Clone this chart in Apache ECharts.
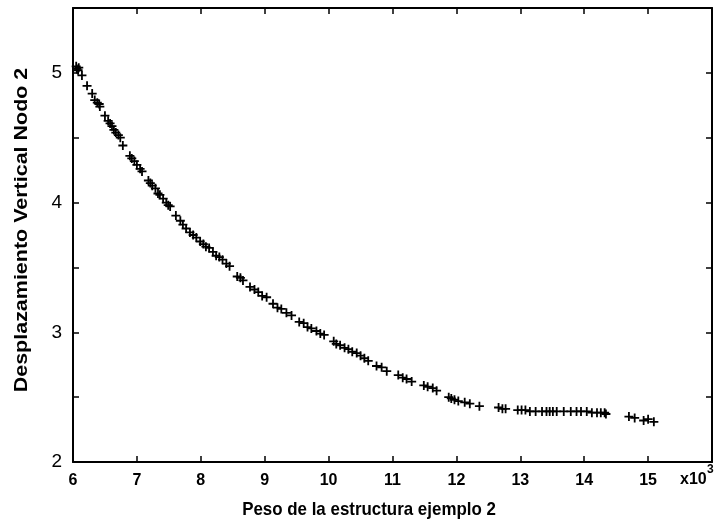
<!DOCTYPE html>
<html>
<head>
<meta charset="utf-8">
<script src="https://cdn.jsdelivr.net/npm/echarts@6/dist/echarts.min.js"></script>
<style>html,body{margin:0;padding:0;background:#fff}#c{width:718px;height:522px}</style>
</head>
<body>
<div id="c"></div>
<script>
// Peso (x10^3)
var peso = [6.05,6.06,6.09,6.08,6.14,6.22,6.30,6.34,6.38,6.41,6.42,6.50,6.55,6.58,6.61,6.64,6.67,6.71,6.74,6.78,
6.89,6.92,6.96,7.00,7.05,7.08,7.18,7.21,7.24,7.29,7.33,7.36,7.41,7.46,7.49,7.52,7.61,7.68,7.72,7.77,
7.83,7.88,7.93,7.99,8.04,8.08,8.13,8.19,8.24,8.29,8.34,8.40,8.45,8.57,8.62,8.66,8.77,8.84,8.90,8.96,
9.03,9.13,9.20,9.26,9.34,9.42,9.54,9.61,9.67,9.73,9.81,9.87,9.93,10.08,10.12,10.18,10.25,10.31,10.37,10.44,
10.50,10.56,10.62,10.75,10.83,10.91,11.09,11.16,11.22,11.30,11.49,11.55,11.63,11.69,11.88,11.92,11.97,12.03,12.13,12.21,
12.36,12.66,12.72,12.77,12.96,13.02,13.08,13.15,13.24,13.34,13.41,13.46,13.51,13.57,13.68,13.79,13.88,13.95,14.04,14.12,
14.20,14.26,14.32,14.34,14.70,14.79,14.93,15.00,15.09];
// Desplazamiento vertical nodo 2
var desplazamiento = [5.05,5.03,5.04,5.02,4.98,4.90,4.84,4.79,4.77,4.76,4.74,4.67,4.63,4.61,4.59,4.56,4.54,4.52,4.50,4.44,
4.36,4.34,4.32,4.29,4.26,4.24,4.17,4.15,4.13,4.11,4.07,4.06,4.03,4.00,3.98,3.97,3.90,3.86,3.83,3.80,
3.77,3.75,3.73,3.70,3.68,3.66,3.65,3.62,3.59,3.58,3.56,3.53,3.51,3.43,3.42,3.40,3.35,3.33,3.31,3.28,
3.27,3.22,3.19,3.18,3.15,3.13,3.08,3.07,3.04,3.03,3.01,2.99,2.98,2.93,2.91,2.90,2.88,2.87,2.85,2.84,
2.82,2.80,2.78,2.74,2.73,2.70,2.67,2.65,2.64,2.62,2.59,2.58,2.57,2.55,2.50,2.49,2.48,2.47,2.46,2.45,
2.43,2.42,2.41,2.41,2.40,2.40,2.40,2.39,2.39,2.39,2.39,2.39,2.39,2.39,2.39,2.39,2.39,2.39,2.39,2.38,
2.38,2.38,2.38,2.37,2.35,2.34,2.32,2.33,2.31];

var xTitle = 'Peso de la estructura ejemplo 2';
var yTitle = 'Desplazamiento Vertical Nodo 2';

var pts = peso.map(function (x, i) { return [x, desplazamiento[i]]; });

var FONT = '"Liberation Sans", Arial, sans-serif';
var axisLine = { onZero: false, lineStyle: { color: '#000', width: 2 } };
var tick = { inside: true, length: 6, lineStyle: { color: '#000', width: 1.5 } };

var chart = echarts.init(document.getElementById('c'), null, { renderer: 'canvas' });
chart.setOption({
  animation: false,
  backgroundColor: '#fff',
  grid: { left: 73, right: 6, top: 8, bottom: 60, containLabel: false },
  xAxis: [
    { type: 'value', min: 6, max: 16, interval: 1, position: 'bottom',
      axisLine: axisLine, axisTick: tick, splitLine: { show: false },
      axisLabel: { color: '#000', fontFamily: FONT, fontWeight: 'bold', fontSize: 16, margin: 11,
        showMaxLabel: false, formatter: function (v) { return v === 16 ? '' : String(v); } } },
    { type: 'value', min: 6, max: 16, interval: 1, position: 'top',
      axisLine: axisLine, axisTick: tick, splitLine: { show: false }, axisLabel: { show: false } }
  ],
  yAxis: [
    { type: 'value', min: 2, max: 5.5, interval: 0.5, position: 'left',
      axisLine: axisLine, axisTick: tick, splitLine: { show: false },
      axisLabel: { color: '#000', fontFamily: FONT, fontSize: 19, margin: 11,
        formatter: function (v) { return Math.abs(v - Math.round(v)) < 1e-9 ? String(Math.round(v)) : ''; } } },
    { type: 'value', min: 2, max: 5.5, interval: 0.5, position: 'right',
      axisLine: axisLine, axisTick: tick, splitLine: { show: false }, axisLabel: { show: false } }
  ],
  graphic: [
    { type: 'text', x: 369, y: 510, scaleX: 0.89,
      style: { text: xTitle, fill: '#000', font: 'bold 19px ' + FONT, textAlign: 'center', textVerticalAlign: 'middle' } },
    { type: 'text', x: 22, y: 230, rotation: Math.PI / 2, scaleX: 1.13,
      style: { text: yTitle, fill: '#000', font: 'bold 19px ' + FONT, textAlign: 'center', textVerticalAlign: 'middle' } },
    { type: 'text', x: 680, y: 480,
      style: { text: 'x10', fill: '#000', font: 'bold 16px ' + FONT, textAlign: 'left', textVerticalAlign: 'middle' } },
    { type: 'text', x: 707, y: 470,
      style: { text: '3', fill: '#000', font: 'bold 12px ' + FONT, textAlign: 'left', textVerticalAlign: 'middle' } }
  ],
  series: [{
    type: 'scatter',
    xAxisIndex: 0, yAxisIndex: 0,
    data: pts,
    symbol: 'path://M4,0H6V4H10V6H6V10H4V6H0V4H4Z',
    symbolSize: 9,
    itemStyle: { color: '#000', opacity: 1 },
    emphasis: { disabled: true }
  }]
});
</script>
</body>
</html>
